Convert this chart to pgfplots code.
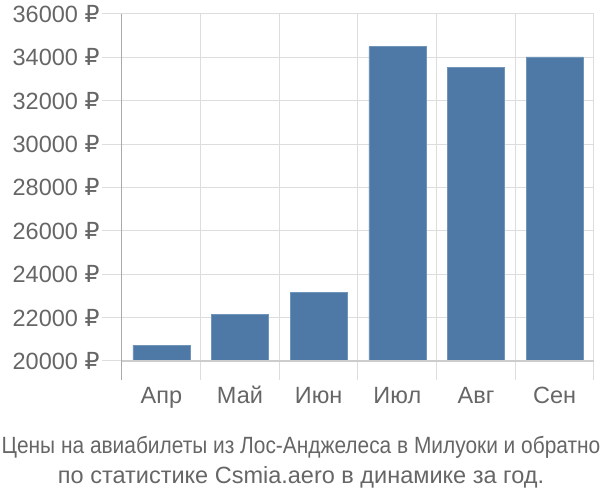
\documentclass[border=0pt]{standalone}
\usepackage{graphicx}
\usepackage{pgfplots}
\pgfplotsset{compat=1.18}
\usepackage{fontspec}
\setmainfont{Liberation Sans}
\newfontfamily\rubf{DejaVu Sans}
\newcommand\rub{{\rubf ₽}}
\definecolor{barblue}{HTML}{4E79A7}
\definecolor{gridc}{HTML}{DDDDDD}
\definecolor{axisc}{HTML}{AAAAAA}
\definecolor{basec}{HTML}{CCCCCC}
\definecolor{txt}{HTML}{666666}
\begin{document}
\begin{tikzpicture}[x=1pt,y=1pt]
\path[use as bounding box] (0,0) rectangle (600,500);
\begin{axis}[
  at={(122pt,120pt)}, anchor=south west,
  scale only axis, width=472pt, height=366pt,
  xmin=-0.5, xmax=5.5,
  ymin=19124, ymax=36000,
  y coord trafo/.code={\pgfkeys{/pgf/fpu=true,/pgf/fpu/output format=fixed}\pgfmathparse{#1-20000}\pgfkeys{/pgf/fpu=false}},
  y coord inv trafo/.code={\pgfkeys{/pgf/fpu=true,/pgf/fpu/output format=fixed}\pgfmathparse{#1+20000}\pgfkeys{/pgf/fpu=false}},
  scaled y ticks=false,
  ybar, bar width=57pt, bar shift=0pt,
  xtick={0,1,2,3,4,5},
  xticklabels={Апр,Май,Июн,Июл,Авг,Сен},
  minor xtick={-0.5,0.5,1.5,2.5,3.5,4.5,5.5},
  xminorgrids, minor grid style={gridc, line width=1pt},
  major x tick style={draw=none},
  minor x tick style={draw=none},
  ytick={20000,22000,24000,26000,28000,30000,32000,34000,36000},
  yticklabels={20000 \rub,22000 \rub,24000 \rub,26000 \rub,28000 \rub,30000 \rub,32000 \rub,34000 \rub,36000 \rub},
  ymajorgrids, major grid style={gridc, line width=1pt},
  y tick style={draw=gridc, line width=1pt},
  tick align=outside, major tick length=20pt,
  axis x line*=bottom, axis y line*=left,
  x axis line style={draw=none},
  y axis line style={draw=axisc, line width=1pt},
  axis line style={-},
  tick label style={font=\fontsize{23.5}{26}\selectfont, text=txt},
  yticklabel style={xshift=1pt},
  xticklabel style={anchor=base, yshift=-4pt},
  clip=false,
]
\addplot[fill=barblue, draw=barblue!80!white] coordinates {
  (0,20717) (1,22155) (2,23166) (3,34501) (4,33550) (5,34019)
};
\draw[basec, line width=1.5pt] (axis cs:-0.5,20000) -- (axis cs:5.5,20000);
\end{axis}
\node[anchor=base, text=txt, font=\fontsize{23.5}{26}\selectfont, inner sep=0pt] at (301,46) {\scalebox{0.889}[1]{Цены на авиабилеты из Лос-Анджелеса в Милуоки и обратно}};
\node[anchor=base, text=txt, font=\fontsize{23.5}{26}\selectfont, inner sep=0pt] at (301,16) {по статистике Csmia.aero в динамике за год.};
\end{tikzpicture}
\end{document}
